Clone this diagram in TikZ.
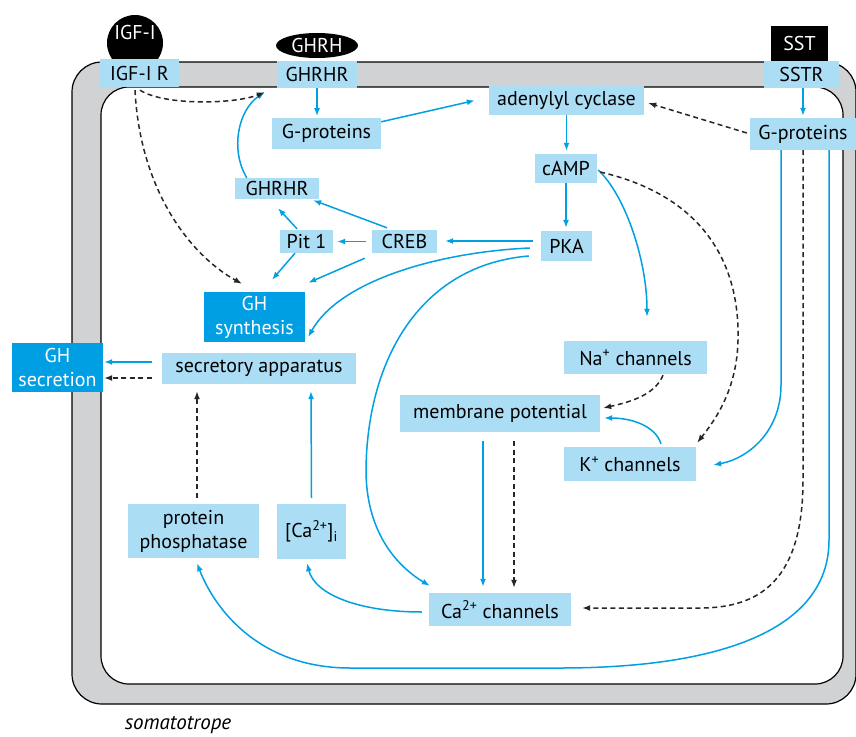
\documentclass[tikz,border=0pt]{standalone}
\usepackage{fontspec}
\setmainfont{PT Sans}
\usetikzlibrary{arrows.meta,calc,shapes.geometric}
\definecolor{boxblue}{RGB}{171,221,245}
\definecolor{deepblue}{RGB}{0,159,227}
\definecolor{lineblue}{RGB}{0,160,227}
\definecolor{membrane}{RGB}{209,210,212}

\begin{document}
\begin{tikzpicture}[x=1pt,y=-1pt,>={Latex[length=8pt,width=6pt]},font=\fontsize{20}{24}\selectfont,
   mol/.style={fill=boxblue,inner sep=0pt},
   result/.style={fill=deepblue,text=white,inner sep=0pt,align=center},
   lig/.style={fill=black,text=white,inner sep=0pt},
   act/.style={draw=lineblue,line width=1.5pt,->},
   inh/.style={draw=black!85,line width=1.5pt,dash pattern=on 5pt off 3.5pt,->}]
  \useasboundingbox (0,0) rectangle (856,736);
  % cell membrane
  \draw[fill=membrane,line width=1.2pt,rounded corners=30pt] (72,62) rectangle (856,704);
  \draw[fill=white,line width=1.2pt,rounded corners=28pt] (101,87) rectangle (843,684);
  \node[font=\itshape\fontsize{21}{24}\selectfont] (cellname) at (178,725) {somatotrope};
  % ligands
  \fill (135,43) circle[radius=28pt];
  \node[text=white] (igf) at (135,32) {IGF-I};
  \node[lig,ellipse,minimum width=82pt,minimum height=25pt] (ghrh) at (317,45.5) {GHRH};
  \node[lig,minimum width=57pt,minimum height=35pt] (sst) at (799.5,43.5) {SST};
  % receptors and signalling molecules
  \node[mol,minimum width=79pt,minimum height=28pt] (igfr) at (139.5,73) {IGF-I R};
  \node[mol,minimum width=80pt,minimum height=27pt] (ghrhr) at (317,74.5) {GHRHR};
  \node[mol,minimum width=75pt,minimum height=27pt] (sstr) at (801.5,74.5) {SSTR};
  \node[mol,minimum width=109pt,minimum height=31pt] (gpl) at (326.5,133.5) {G-proteins};
  \node[mol,minimum width=106pt,minimum height=32pt] (gpr) at (803,134) {G-proteins};
  \node[mol,minimum width=155pt,minimum height=29pt] (adc) at (566.5,100.5) {adenylyl cyclase};
  \node[mol,minimum width=62pt,minimum height=29pt] (camp) at (566,168.5) {cAMP};
  \node[mol,minimum width=51pt,minimum height=30pt] (pka) at (566.5,246) {PKA};
  \node[mol,minimum width=65pt,minimum height=23pt] (creb) at (404.5,241.5) {CREB};
  \node[mol,minimum width=53pt,minimum height=23pt] (pit) at (306.5,241.5) {Pit 1};
  \node[mol,minimum width=84pt,minimum height=21pt] (ghrhr2) at (277,188.5) {GHRHR};
  \node[result,minimum width=101pt,minimum height=50pt] (ghs) at (254.5,317) {GH\\synthesis};
  \node[result,minimum width=91pt,minimum height=49pt] (ghsec) at (57.5,367.5) {GH\\secretion};
  \node[mol,minimum width=194pt,minimum height=31pt] (sec) at (259,368.5) {secretory apparatus};
  \node[mol,minimum width=143pt,minimum height=33pt] (na) at (635.5,357.5) {Na\textsuperscript{+} channels};
  \node[mol,minimum width=200pt,minimum height=37pt] (mp) at (500,413.5) {membrane potential};
  \node[mol,minimum width=132pt,minimum height=34pt] (k) at (630,464) {K\textsuperscript{+} channels};
  \node[mol,minimum width=142pt,minimum height=33pt] (ca) at (500,609.5) {Ca\textsuperscript{2+} channels};
  \node[mol,minimum width=131pt,minimum height=54pt,align=center] (pp) at (193.5,531) {protein\\phosphatase};
  \node[mol,minimum width=69pt,minimum height=55pt] (cai) at (311.5,531.5) {[Ca\textsuperscript{2+}]\textsubscript{i}};
  % stimulatory pathways
  \draw[act] (ghrhr.south) -- ($(ghrhr.south)+(0,28)$);
  \draw[act] ($(gpl.north east)+(0,4)$) -- ($(adc.west)+(-14,0)$);
  \draw[act] ($(ghrhr2.north west)+(12,0)$) .. controls (230,150) and (238,110) .. ($(ghrhr.south west)+(-12,4)$);
  \draw[act] (adc.south) -- ($(camp.north)+(0.5,-3)$);
  \draw[act] ($(sstr.south)+(1.5,0)$) -- ($(gpr.north)+(0,-2)$);
  \draw[act] (camp.south) -- ($(pka.north)+(-0.5,-3)$);
  \draw[act] ($(camp.east)+(1,1.5)$) .. controls (625,195) and (647,260) .. ($(na.north)+(11.5,-24)$);
  \draw[act] ($(pka.west)+(-8,-5)$) -- ($(creb.east)+(8,-0.5)$);
  \draw[act] ($(pka.west)+(-11,2)$) .. controls (440,252) and (340,280) .. ($(ghs.east)+(3,20)$);
  \draw[act] ($(pka.west)+(-12,10)$) .. controls (420,265) and (367,360) .. (366,470)
     .. controls (366,530) and (395,565) .. ($(ca.north west)+(1,-7)$);
  \draw[act] ($(creb.west)+(-6,0)$) -- ($(pit.east)+(4,0)$);
  \draw[act] ($(creb.north)+(-17.5,-2)$) -- ($(ghrhr2.south east)+(-6,1)$);
  \draw[act] ($(pit.north)+(-9.5,-1)$) -- ($(ghrhr2.south)+(1,9)$);
  \draw[act] ($(pit.south)+(-11.5,0)$) -- ($(ghs.north)+(17.5,-12)$);
  \draw[act] ($(creb.south west)+(-7,5)$) -- ($(ghs.north east)+(3,-9)$);
  \draw[act] ($(sec.west)+(-10,-6.5)$) -- ($(ghsec.east)+(1,-5.5)$);
  \draw[act] ($(cai.north)+(0,-6)$) -- ($(sec.south)+(52,7)$);
  \draw[act] ($(ca.west)+(-7,2.5)$) .. controls (360,612) and (315,595) .. ($(cai.south)+(-4.5,4)$);
  \draw[act] ($(k.north)+(31,-3)$) .. controls (655,425) and (630,418) .. ($(mp.east)+(4,4.5)$);
  \draw[act] ($(mp.south)+(-17,9)$) -- ($(ca.north)+(-17,-6)$);
  \draw[act] ($(gpr.south)+(-22,0)$) -- (781,385) .. controls (781,430) and (750,458) .. ($(k.east)+(17,1)$);
  \draw[act] ($(gpr.south)+(26,0)$) -- (829,540) .. controls (829,630) and (720,668) .. (560,668)
     -- (350,668) .. controls (260,668) and (215,610) .. ($(pp.south)+(3.5,5)$);
  % inhibitory and indirect pathways
  \draw[inh] ($(igfr.south)+(0.5,3)$) .. controls (165,106) and (235,104) .. ($(ghrhr.south west)+(-12,4)$);
  \draw[inh] ($(igfr.south)+(-4.5,3)$) .. controls (140,190) and (190,255) .. ($(ghs.north)+(-12.5,-8)$);
  \draw[inh] ($(gpr.west)+(-3,-1)$) -- ($(adc.east)+(4,2.5)$);
  \draw[inh] ($(camp.east)+(3,3.5)$) .. controls (700,195) and (740,260) .. (738,340)
     .. controls (737,390) and (715,420) .. ($(k.north east)+(1,-4)$);
  \draw[inh] ($(sec.west)+(-10,9.5)$) -- ($(ghsec.east)+(1,10.5)$);
  \draw[inh] ($(pp.north)+(3.5,-6)$) -- ($(sec.south)+(-62,7)$);
  \draw[inh] ($(na.south)+(27.5,1)$) .. controls (655,395) and (630,402) .. ($(mp.east)+(3,-5.5)$);
  \draw[inh] ($(mp.south)+(14,9)$) -- ($(ca.north)+(14,-5)$);
  \draw[inh] (gpr.south) -- (803,480) .. controls (803,580) and (760,608) .. (700,608) -- ($(ca.east)+(11,-1.5)$);
\end{tikzpicture}
\end{document}
